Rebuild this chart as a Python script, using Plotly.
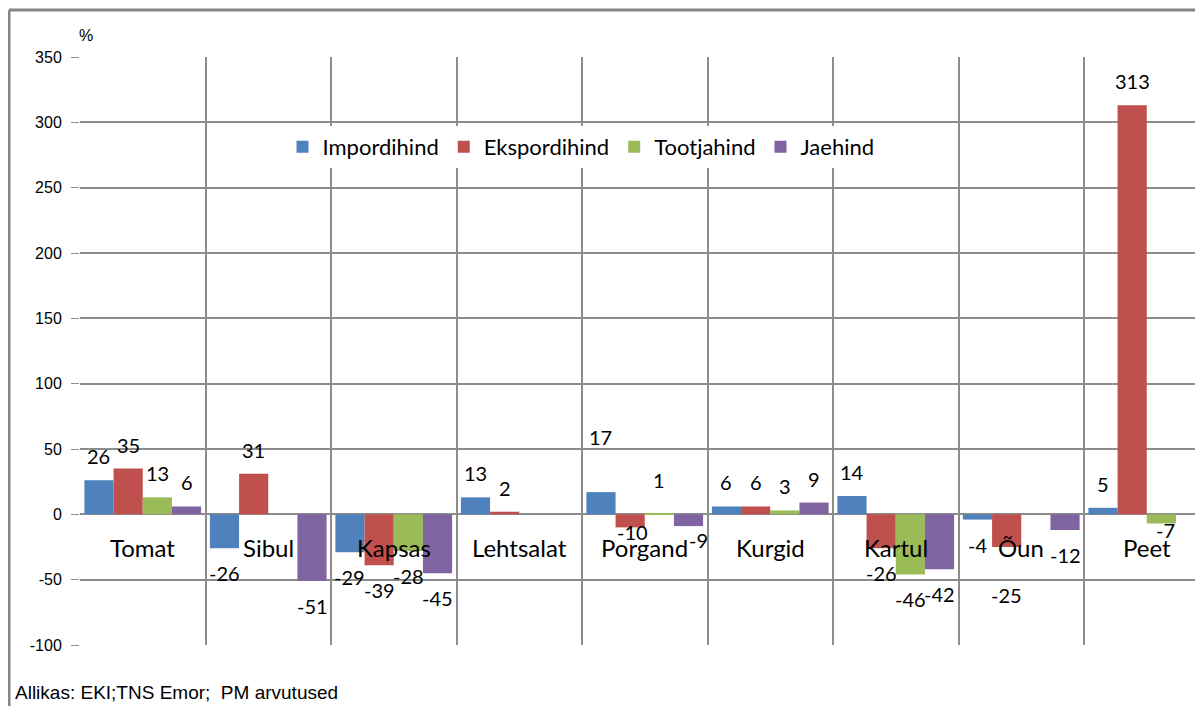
import plotly.graph_objects as go

categories = ["Tomat", "Sibul", "Kapsas", "Lehtsalat", "Porgand", "Kurgid", "Kartul", "Õun", "Peet"]
series_names = ["Impordihind", "Ekspordihind", "Tootjahind", "Jaehind"]
impordihind = [26, -26, -29, 13, 17, 6, 14, -4, 5]
ekspordihind = [35, 31, -39, 2, -10, 6, -26, -25, 313]
tootjahind = [13, None, -28, None, 1, 3, -46, None, -7]
jaehind = [6, -51, -45, None, -9, 9, -42, -12, None]
colors = ["#4F81BD", "#C0504D", "#9BBB59", "#8064A2"]
y_ticks = [-100, -50, 0, 50, 100, 150, 200, 250, 300, 350]
y_tick_labels = [str(v) for v in y_ticks]
source_text = "Allikas: EKI;TNS Emor;  PM arvutused"

# label nudges in pixels (dx, dy), styling only
label_nudge = {
    ("Porgand", "Impordihind"): (0, 55),
    ("Porgand", "Tootjahind"): (0, 33),
    ("Porgand", "Ekspordihind"): (2, -5),
    ("Porgand", "Jaehind"): (10, -14),
    ("Õun", "Ekspordihind"): (0, -48),
    ("Peet", "Tootjahind"): (4, -7),
}

W, H = 1195, 698
ML, MT, MB = 72, 49, 61
plot_w = W - ML
plot_h = H - MT - MB
cat_px = 125.5
x_hi = -0.5 + plot_w / cat_px
bargap = 0.07
bw = (1 - bargap) / 4

fig = go.Figure()
all_series = [impordihind, ekspordihind, tootjahind, jaehind]
for name, vals, col in zip(series_names, all_series, colors):
    fig.add_trace(go.Bar(x=categories, y=vals, name=name, marker_color=col, marker_line_width=0))

lab_font = dict(family="Lato", size=20, color="#000000")
for si, (name, vals) in enumerate(zip(series_names, all_series)):
    for ci, (c, v) in enumerate(zip(categories, vals)):
        if v is None:
            continue
        dx, dy = label_nudge.get((c, name), (0, 24 if v >= 0 else -25))
        fig.add_annotation(x=ci + (si - 1.5) * bw, y=v, text=str(v), showarrow=False,
                           xanchor="center", yanchor="middle", xshift=dx, yshift=dy,
                           font=lab_font)

for c in categories:
    fig.add_annotation(x=c, y=-25, text=c, showarrow=False,
                       font=dict(family="Lato", size=24, color="#000000"))

fig.add_annotation(xref="paper", yref="paper", x=-3 / plot_w, y=1 + 22 / plot_h, text="%",
                   showarrow=False, xanchor="left", yanchor="middle",
                   font=dict(family="Liberation Sans", size=16, color="#000000"))
fig.add_annotation(xref="paper", yref="paper", x=-67 / plot_w, y=-(684 - (H - MB)) / plot_h,
                   text=source_text, showarrow=False, xanchor="left", yanchor="middle",
                   font=dict(family="Liberation Sans", size=19, color="#000000"))

# outer chart border (left and top)
bx = (1 - ML) / plot_w
by = 1 + (MT - 2) / plot_h
fig.add_shape(type="line", xref="paper", yref="paper", x0=bx, x1=bx,
              y0=-(MB + 5) / plot_h, y1=by, line=dict(color="#858585", width=3))
fig.add_shape(type="line", xref="paper", yref="paper", x0=bx, x1=1.02,
              y0=by, y1=by, line=dict(color="#858585", width=3))

fig.update_layout(
    width=W, height=H,
    margin=dict(l=ML, r=0, t=MT, b=MB),
    paper_bgcolor="white", plot_bgcolor="white",
    barmode="group", bargap=bargap, bargroupgap=0,
    showlegend=True,
    legend=dict(orientation="h", x=(573 - ML) / plot_w, y=(H - MB - 139) / plot_h,
                xanchor="center", yanchor="middle", bgcolor="white",
                font=dict(family="Lato", size=22, color="#000000"),
                itemwidth=30, tracegroupgap=0),
    xaxis=dict(type="category", range=[-0.5, x_hi], tickson="boundaries",
               showgrid=True, gridcolor="#8C8C8C", gridwidth=2,
               showticklabels=False, ticks="", showline=False, zeroline=False),
    yaxis=dict(range=[-100, 350], tickvals=y_ticks, ticktext=y_tick_labels,
               showgrid=True, gridcolor="#8C8C8C",
               gridwidth=1.5, zeroline=False, ticks="outside", ticklen=8, tickcolor="#8C8C8C",
               showline=False, ticklabelstandoff=6,
               tickfont=dict(family="Liberation Sans", size=16, color="#000000")),
)

fig.write_html("out.html")
